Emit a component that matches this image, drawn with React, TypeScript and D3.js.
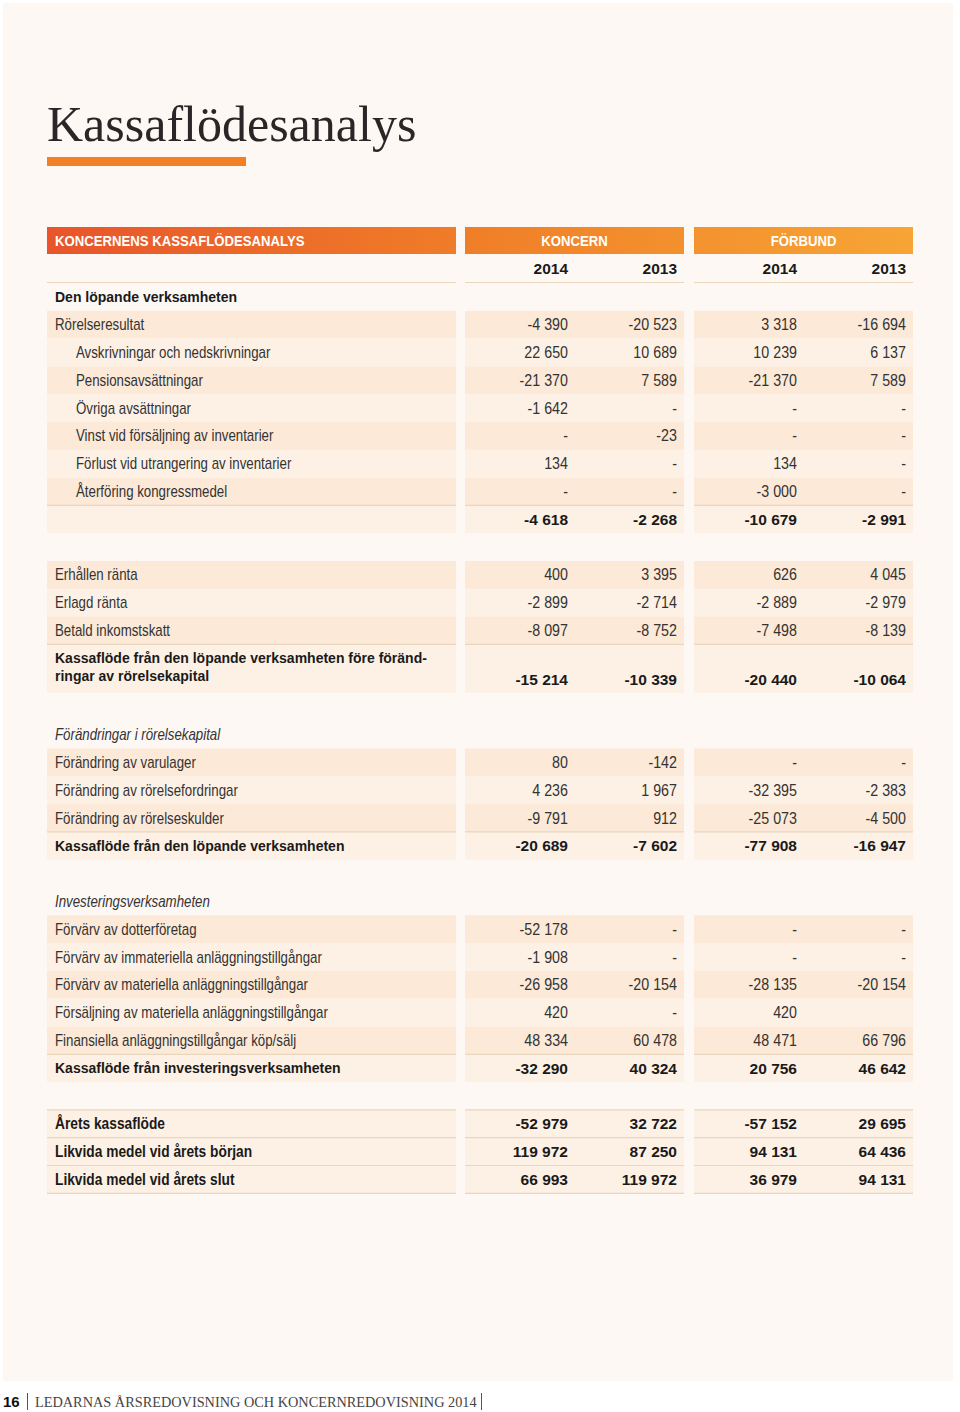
import React from 'react';
import * as d3 from 'd3';

// Table content
const groups = ['KONCERN', 'FÖRBUND'];
const years = ['2014', '2013', '2014', '2013'];
const columns = ['k2014', 'k2013', 'f2014', 'f2013'];

// head = bold heading, italic = italic heading, item / sub = normal row (sub is indented),
// total = bold sum row, total2 = two-line bold sum row, final = closing bold rows, gap = empty space
const rowTypes = [
  'head', 'item', 'sub', 'sub', 'sub', 'sub', 'sub', 'sub', 'total',
  'gap', 'item', 'item', 'item', 'total2',
  'gap', 'italic', 'item', 'item', 'item', 'total',
  'gap', 'italic', 'item', 'item', 'item', 'item', 'item', 'total',
  'gap', 'final', 'final', 'final',
];

const rowLabels = [
  'Den löpande verksamheten',
  'Rörelseresultat',
  'Avskrivningar och nedskrivningar',
  'Pensionsavsättningar',
  'Övriga avsättningar',
  'Vinst vid försäljning av inventarier',
  'Förlust vid utrangering av inventarier',
  'Återföring kongressmedel',
  '',
  '',
  'Erhållen ränta',
  'Erlagd ränta',
  'Betald inkomstskatt',
  'Kassaflöde från den löpande verksamheten före föränd-|ringar av rörelsekapital',
  '',
  'Förändringar i rörelsekapital',
  'Förändring av varulager',
  'Förändring av rörelsefordringar',
  'Förändring av rörelseskulder',
  'Kassaflöde från den löpande verksamheten',
  '',
  'Investeringsverksamheten',
  'Förvärv av dotterföretag',
  'Förvärv av immateriella anläggningstillgångar',
  'Förvärv av materiella anläggningstillgångar',
  'Försäljning av materiella anläggningstillgångar',
  'Finansiella anläggningstillgångar köp/sälj',
  'Kassaflöde från investeringsverksamheten',
  '',
  'Årets kassaflöde',
  'Likvida medel vid årets början',
  'Likvida medel vid årets slut',
];

// null = "-", undefined = empty cell
const koncern2014 = [
  undefined, -4390, 22650, -21370, -1642, null, 134, null, -4618,
  undefined, 400, -2899, -8097, -15214,
  undefined, undefined, 80, 4236, -9791, -20689,
  undefined, undefined, -52178, -1908, -26958, 420, 48334, -32290,
  undefined, -52979, 119972, 66993,
];
const koncern2013 = [
  undefined, -20523, 10689, 7589, null, -23, null, null, -2268,
  undefined, 3395, -2714, -8752, -10339,
  undefined, undefined, -142, 1967, 912, -7602,
  undefined, undefined, null, null, -20154, null, 60478, 40324,
  undefined, 32722, 87250, 119972,
];
const forbund2014 = [
  undefined, 3318, 10239, -21370, null, null, 134, -3000, -10679,
  undefined, 626, -2889, -7498, -20440,
  undefined, undefined, null, -32395, -25073, -77908,
  undefined, undefined, null, null, -28135, 420, 48471, 20756,
  undefined, -57152, 94131, 36979,
];
const forbund2013 = [
  undefined, -16694, 6137, 7589, null, null, null, null, -2991,
  undefined, 4045, -2979, -8139, -10064,
  undefined, undefined, null, -2383, -4500, -16947,
  undefined, undefined, null, null, -20154, undefined, 66796, 46642,
  undefined, 29695, 64436, 94131,
];

const seriesValues = [koncern2014, koncern2013, forbund2014, forbund2013];

const locale = d3.formatLocale({
  decimal: ',',
  thousands: ' ',
  grouping: [3],
  currency: ['', ''],
  minus: '-',
});
const fmt = locale.format(',d');

const fmtCell = (v: number | null | undefined) => (v === undefined ? '' : v === null ? '-' : fmt(v));

const SANS = '"Liberation Sans", Arial, sans-serif';
const SERIF = '"Liberation Serif", "Times New Roman", serif';

const ROW_H = 27.8;
const DOUBLE = 1.745;

const BAND_DARK = '#fce9d7';
const BAND_LIGHT = '#fdf1e5';
const LINE = '#e9d7bd';

// horizontally squeezed text, to stand in for the condensed face of the original
function CText({ x, y, sx = 0.83, anchor = 'start', children, ...rest }: any) {
  return (
    <text transform={`translate(${x},${y}) scale(${sx},1)`} textAnchor={anchor} fontFamily={SANS} {...rest}>
      {children}
    </text>
  );
}

export default function App() {
  const width = 960;
  const height = 1412;

  // block x extents
  const blocks = [
    [47, 456],
    [465, 684],
    [694, 913],
  ];

  // right edges of number columns
  const xCol = d3.scaleOrdinal<string, number>().domain(columns).range([568, 677, 797, 906]);

  // cumulative row offsets in row units
  const units = rowTypes.map(t => (t === 'total2' ? DOUBLE : 1));
  const offsets: number[] = [];
  units.reduce((acc, u, i) => {
    offsets[i] = acc;
    return acc + u;
  }, 0);
  const yScale = d3.scaleLinear().domain([0, 1]).range([283, 283 + ROW_H]);

  // alternating stripes inside each section
  let stripe = 0;
  const bandFill = rowTypes.map(t => {
    if (t === 'gap' || t === 'head' || t === 'italic') {
      stripe = 0;
      return null;
    }
    if (t === 'total' || t === 'total2' || t === 'final') return BAND_LIGHT;
    const f = stripe % 2 === 0 ? BAND_DARK : BAND_LIGHT;
    stripe++;
    return f;
  });

  return (
    <div style={{ position: 'absolute', left: 0, top: 0 }}>
      <svg width={width} height={height} style={{ display: 'block', background: '#fff' }}>
        <defs>
          <linearGradient id="hdr" gradientUnits="userSpaceOnUse" x1={47} x2={913} y1={0} y2={0}>
            <stop offset="0" stopColor="#e8552b" />
            <stop offset="0.5" stopColor="#f07f28" />
            <stop offset="1" stopColor="#f7a535" />
          </linearGradient>
        </defs>
        <rect x={3} y={3} width={950} height={1378} fill="#fdf8f4" />

        <text x={47} y={141} fontFamily={SERIF} fontSize={50} fill="#2a2627">
          Kassaflödesanalys
        </text>
        <rect x={47} y={157} width={199} height={9} fill="#f28124" />

        {/* header bar */}
        {blocks.map(([x0, x1], i) => (
          <rect key={i} x={x0} y={227} width={x1 - x0} height={27} fill="url(#hdr)" />
        ))}
        <CText x={55} y={246} sx={0.94} fontWeight="bold" fontSize={14} fill="#fff">
          KONCERNENS KASSAFLÖDESANALYS
        </CText>
        {groups.map((g, i) => (
          <CText
            key={g}
            x={(blocks[i + 1][0] + blocks[i + 1][1]) / 2}
            y={246}
            sx={0.94}
            anchor="middle"
            fontWeight="bold"
            fontSize={14}
            fill="#fff"
          >
            {g}
          </CText>
        ))}

        {/* years */}
        {years.map((y, i) => (
          <text
            key={i}
            x={xCol(columns[i])}
            y={274}
            textAnchor="end"
            fontFamily={SANS}
            fontWeight="bold"
            fontSize={15.5}
            fill="#1a1a1a"
          >
            {y}
          </text>
        ))}
        {blocks.map(([x0, x1], i) => (
          <line key={i} x1={x0} x2={x1} y1={282.5} y2={282.5} stroke={LINE} strokeWidth={1.2} />
        ))}

        {/* bands */}
        {rowTypes.map((t, i) => {
          const fill = bandFill[i];
          if (!fill) return null;
          const y0 = yScale(offsets[i]);
          const y1 = yScale(offsets[i] + units[i]);
          return (
            <g key={'b' + i}>
              {blocks.map(([x0, x1], j) => (
                <rect key={j} x={x0} y={y0} width={x1 - x0} height={y1 - y0} fill={fill} />
              ))}
            </g>
          );
        })}

        {/* separator lines */}
        {rowTypes.map((t, i) => {
          if (t !== 'total' && t !== 'total2' && t !== 'final') return null;
          const y0 = yScale(offsets[i]);
          const y1 = yScale(offsets[i] + units[i]);
          const ys = t === 'final' && rowTypes[i + 1] !== 'final' ? [y0, y1] : [y0];
          return (
            <g key={'l' + i}>
              {ys.map((yy, k) =>
                blocks.map(([x0, x1], j) => (
                  <line key={k + '-' + j} x1={x0} x2={x1} y1={yy} y2={yy} stroke={LINE} strokeWidth={1.2} />
                ))
              )}
            </g>
          );
        })}

        {/* labels */}
        {rowTypes.map((t, i) => {
          if (t === 'gap' || !rowLabels[i]) return null;
          const y0 = yScale(offsets[i]);
          const cy = y0 + ROW_H / 2;
          if (t === 'total2') {
            const lines = rowLabels[i].split('|');
            return (
              <text key={'t' + i} fontFamily={SANS} fontWeight="bold" fontSize={14} fill="#1a1a1a">
                {lines.map((l, k) => (
                  <tspan key={k} x={55} y={y0 + 18.5 + k * 18}>
                    {l}
                  </tspan>
                ))}
              </text>
            );
          }
          if (t === 'head' || t === 'total') {
            return (
              <text key={'t' + i} x={55} y={cy + 5} fontFamily={SANS} fontWeight="bold" fontSize={14} fill="#1a1a1a">
                {rowLabels[i]}
              </text>
            );
          }
          const condBold = t === 'final';
          return (
            <CText
              key={'t' + i}
              x={t === 'sub' ? 76 : 55}
              y={cy + 5.5}
              sx={condBold ? 0.86 : 0.83}
              fontWeight={condBold ? 'bold' : 'normal'}
              fontStyle={t === 'italic' ? 'italic' : 'normal'}
              fontSize={16}
              fill={condBold ? '#1a1a1a' : '#333'}
            >
              {rowLabels[i]}
            </CText>
          );
        })}

        {/* values */}
        {rowTypes.map((t, i) => {
          if (t === 'gap' || t === 'head' || t === 'italic') return null;
          const y0 = yScale(offsets[i]);
          const y1 = yScale(offsets[i] + units[i]);
          const bold = t === 'total' || t === 'total2' || t === 'final';
          const baseY = t === 'total2' ? y1 - 8 : (y0 + y1) / 2 + 5.5;
          return (
            <g key={'v' + i}>
              {columns.map((c, j) =>
                bold ? (
                  <text
                    key={c}
                    x={xCol(c)}
                    y={baseY}
                    textAnchor="end"
                    fontFamily={SANS}
                    fontWeight="bold"
                    fontSize={15.5}
                    fill="#1a1a1a"
                  >
                    {fmtCell(seriesValues[j][i])}
                  </text>
                ) : (
                  <CText key={c} x={xCol(c)} y={baseY} sx={0.84} anchor="end" fontSize={17} fill="#333">
                    {fmtCell(seriesValues[j][i])}
                  </CText>
                )
              )}
            </g>
          );
        })}

        {/* footer */}
        <text x={3} y={1407} fontFamily={SANS} fontWeight="bold" fontSize={15} fill="#111">
          16
        </text>
        <line x1={27.5} x2={27.5} y1={1393} y2={1410} stroke="#555" strokeWidth={1} />
        <text x={35} y={1407} fontFamily={SERIF} fontSize={14.3} fill="#444">
          LEDARNAS ÅRSREDOVISNING OCH KONCERNREDOVISNING 2014
        </text>
        <line x1={481.5} x2={481.5} y1={1393} y2={1410} stroke="#555" strokeWidth={1} />
      </svg>
    </div>
  );
}
